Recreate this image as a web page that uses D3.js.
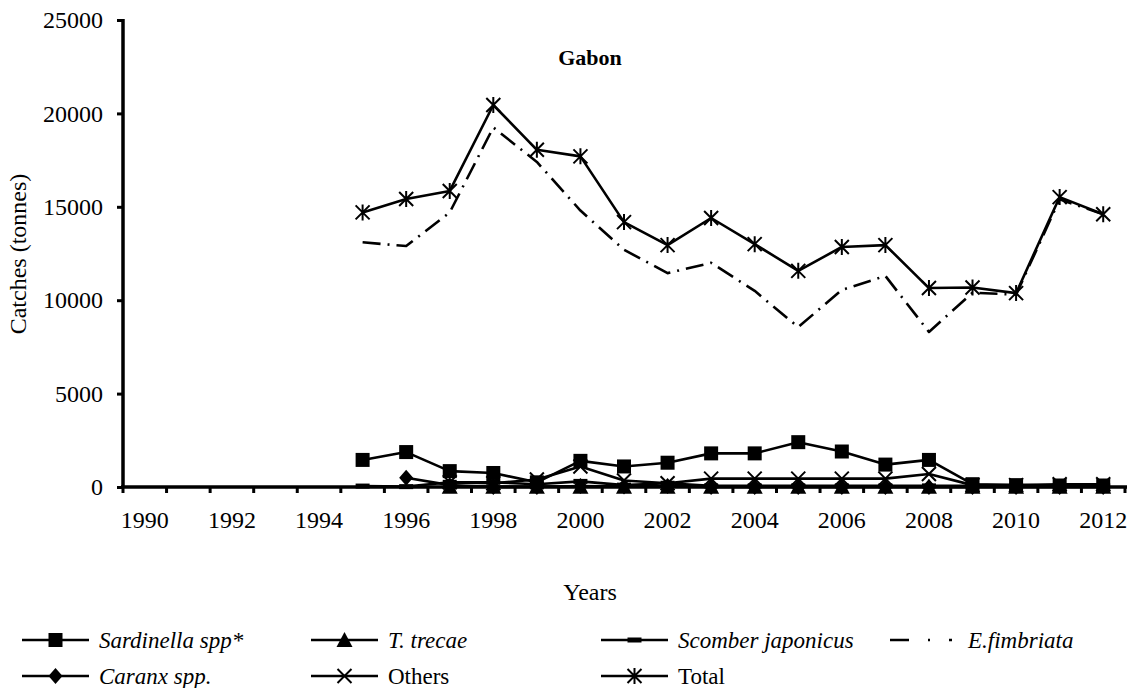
<!DOCTYPE html>
<html>
<head>
<meta charset="utf-8">
<script src="https://cdn.jsdelivr.net/npm/d3@7"></script>
<style>
  body { margin: 0; background: #fff; }
  svg text { font-family: "Liberation Serif", Tinos, "Times New Roman", Times, "DejaVu Serif", serif; fill: #000; }
</style>
</head>
<body>
<svg id="chart" width="1133" height="688"></svg>
<script>
// ------------------------
// Data (Gabon catches, tonnes); null = no value reported
// ------------------------
const years = d3.range( 1990, 2013 );
const dataYears = d3.range( 1995, 2013 );
const yTicks = [ 0, 5000, 10000, 15000, 20000, 25000 ];

const sardinella = [ 1450, 1870, 850, 750, 250, 1400, 1100, 1300, 1800, 1800, 2400, 1900, 1200, 1450, 150, 100, 80, 80 ];
const tTrecae = [ null, null, 20, 20, 20, 20, 20, 20, 20, 20, 20, 20, 20, 20, 20, 20, 20, 20 ];
const scomber = [ 50, 20, 250, 250, 150, 300, 100, 200, 60, 60, 60, 60, 60, 60, 60, 60, 60, 60 ];
const fimbriata = [ 13100, 12900, 14700, 19250, 17400, 14800, 12700, 11450, 12000, 10500, 8560, 10550, 11300, 8300, 10400, 10300, 15400, 14600 ];
const caranx = [ null, 500, 100, 0, 0, 50, 30, 50, 0, 0, 0, 0, 0, 0, 0, 0, 0, 0 ];
const others = [ null, null, 250, 200, 400, 1100, 350, 200, 450, 450, 450, 450, 450, 700, 100, 100, 150, 150 ];
const total = [ 14700, 15420, 15850, 20450, 18050, 17700, 14180, 12950, 14400, 13000, 11570, 12850, 12950, 10650, 10680, 10380, 15520, 14600 ];

const series = [
	{ name: 'Sardinella spp*', italic: true, values: sardinella, marker: 'square', dash: null },
	{ name: 'T. trecae', italic: true, values: tTrecae, marker: 'triangle', dash: null },
	{ name: 'Scomber japonicus', italic: true, values: scomber, marker: 'bar', dash: null },
	{ name: 'E.fimbriata', italic: true, values: fimbriata, marker: null, dash: '18,7,2,7' },
	{ name: 'Caranx spp.', italic: true, values: caranx, marker: 'diamond', dash: null },
	{ name: 'Others', italic: false, values: others, marker: 'cross', dash: null },
	{ name: 'Total', italic: false, values: total, marker: 'star', dash: null },
];

const svg = d3.select( '#chart' );
const margin = { left: 123, right: 1125, top: 20, bottom: 487 };

const x = d3.scaleBand()
	.domain( years )
	.range( [ margin.left, margin.right ] );

const y = d3.scaleLinear()
	.domain( [ 0, 25000 ] )
	.range( [ margin.bottom, margin.top ] );

const cx = yr => x( yr ) + x.bandwidth() / 2;

const line = d3.line()
	.defined( d => d[ 1 ] !== null )
	.x( d => cx( d[ 0 ] ) )
	.y( d => y( d[ 1 ] ) );

// draw order: back to front like the original
const drawOrder = [ 3, 6, 5, 4, 2, 1, 0 ];

drawOrder.forEach( i => {
	const s = series[ i ];
	const pts = dataYears.map( ( yr, j ) => [ yr, s.values[ j ] ] );
	svg.append( 'path' )
		.attr( 'd', line( pts ) )
		.attr( 'fill', 'none' )
		.attr( 'stroke', '#000' )
		.attr( 'stroke-width', 2.6 )
		.attr( 'stroke-linejoin', 'round' )
		.attr( 'stroke-dasharray', s.dash );
	if ( s.marker ) {
		pts.filter( p => p[ 1 ] !== null )
			.forEach( p => drawMarker( svg, s.marker, cx( p[ 0 ] ), y( p[ 1 ] ) ) );
	}
} );

// axes
const yAxis = d3.axisLeft( y )
	.tickValues( yTicks )
	.tickSize( 6 )
	.tickPadding( 14 )
	.tickFormat( d3.format( 'd' ) );

const gy = svg.append( 'g' )
	.attr( 'transform', `translate(${ margin.left },0)` )
	.call( yAxis )
	.attr( 'font-family', null );
gy.select( '.domain' ).attr( 'stroke-width', 3.5 ).attr( 'd', `M0,${ margin.top - 1 }V${ margin.bottom + 1 }` );
gy.selectAll( '.tick line' ).attr( 'stroke-width', 3 );
gy.selectAll( 'text' ).style( 'font-size', '24px' );

const xAxis = d3.axisBottom( x )
	.tickValues( years.filter( d => d % 2 === 0 ) )
	.tickSize( 0 )
	.tickPadding( 24 );

const gx = svg.append( 'g' )
	.attr( 'transform', `translate(0,${ margin.bottom })` )
	.call( xAxis )
	.attr( 'font-family', null );
gx.select( '.domain' ).attr( 'stroke-width', 3.5 ).attr( 'd', `M${ margin.left - 2 },0H${ margin.right + 2 }` );
gx.selectAll( 'text' ).style( 'font-size', '24px' );

// tick marks sit on the category boundaries
const edges = years.map( d => x( d ) ).concat( [ margin.right ] );
gx.selectAll( 'line.edge' )
	.data( edges )
	.join( 'line' )
	.attr( 'class', 'edge' )
	.attr( 'x1', d => d ).attr( 'x2', d => d )
	.attr( 'y1', 0 ).attr( 'y2', 6 )
	.attr( 'stroke', '#000' )
	.attr( 'stroke-width', 3 );

// titles
svg.append( 'text' )
	.attr( 'x', 590 ).attr( 'y', 65 )
	.attr( 'text-anchor', 'middle' )
	.style( 'font-size', '22px' )
	.style( 'font-weight', 'bold' )
	.text( 'Gabon' );

svg.append( 'text' )
	.attr( 'x', 590 ).attr( 'y', 600 )
	.attr( 'text-anchor', 'middle' )
	.style( 'font-size', '24px' )
	.text( 'Years' );

svg.append( 'text' )
	.attr( 'transform', 'translate(26,254) rotate(-90)' )
	.attr( 'text-anchor', 'middle' )
	.style( 'font-size', '24px' )
	.text( 'Catches (tonnes)' );

// legend
const legendPos = [
	[ 22, 640 ], [ 311, 640 ], [ 601, 640 ], [ 890, 640 ],
	[ 22, 676 ], [ 311, 676 ], [ 601, 676 ],
];

series.forEach( ( s, i ) => {
	const [ lx, ly ] = legendPos[ i ];
	const g = svg.append( 'g' );
	const len = s.dash ? 62 : 67;
	g.append( 'line' )
		.attr( 'x1', lx ).attr( 'x2', lx + len )
		.attr( 'y1', ly ).attr( 'y2', ly )
		.attr( 'stroke', '#000' )
		.attr( 'stroke-width', 2.6 )
		.attr( 'stroke-dasharray', s.dash ? '19,19,2,19' : null );
	if ( s.marker ) {
		drawMarker( g, s.marker, lx + len / 2, ly );
	}
	g.append( 'text' )
		.attr( 'x', lx + len + ( s.dash ? 16 : 10 ) )
		.attr( 'y', ly + 8 )
		.style( 'font-size', '23px' )
		.style( 'font-style', s.italic ? 'italic' : 'normal' )
		.text( s.name );
} );

function drawMarker( g, type, px, py ) {
	const r = 7;
	if ( type === 'square' ) {
		g.append( 'rect' )
			.attr( 'x', px - r ).attr( 'y', py - r )
			.attr( 'width', 2 * r ).attr( 'height', 2 * r )
			.attr( 'fill', '#000' );
	} else if ( type === 'triangle' ) {
		g.append( 'path' )
			.attr( 'd', `M${ px },${ py - r - 1 }L${ px + r + 1 },${ py + r }L${ px - r - 1 },${ py + r }Z` )
			.attr( 'fill', '#000' );
	} else if ( type === 'diamond' ) {
		g.append( 'path' )
			.attr( 'd', `M${ px },${ py - r - 1 }L${ px + r },${ py }L${ px },${ py + r + 1 }L${ px - r },${ py }Z` )
			.attr( 'fill', '#000' );
	} else if ( type === 'bar' ) {
		g.append( 'rect' )
			.attr( 'x', px - r ).attr( 'y', py - 2.5 )
			.attr( 'width', 2 * r ).attr( 'height', 5 )
			.attr( 'fill', '#000' );
	} else if ( type === 'cross' || type === 'star' ) {
		g.append( 'path' )
			.attr( 'd', `M${ px - r },${ py - r }L${ px + r },${ py + r }M${ px - r },${ py + r }L${ px + r },${ py - r }` +
				( type === 'star' ? `M${ px },${ py - r - 1 }V${ py + r + 1 }` : '' ) )
			.attr( 'stroke', '#000' )
			.attr( 'stroke-width', 2 )
			.attr( 'fill', 'none' );
	}
}
</script>
</body>
</html>
